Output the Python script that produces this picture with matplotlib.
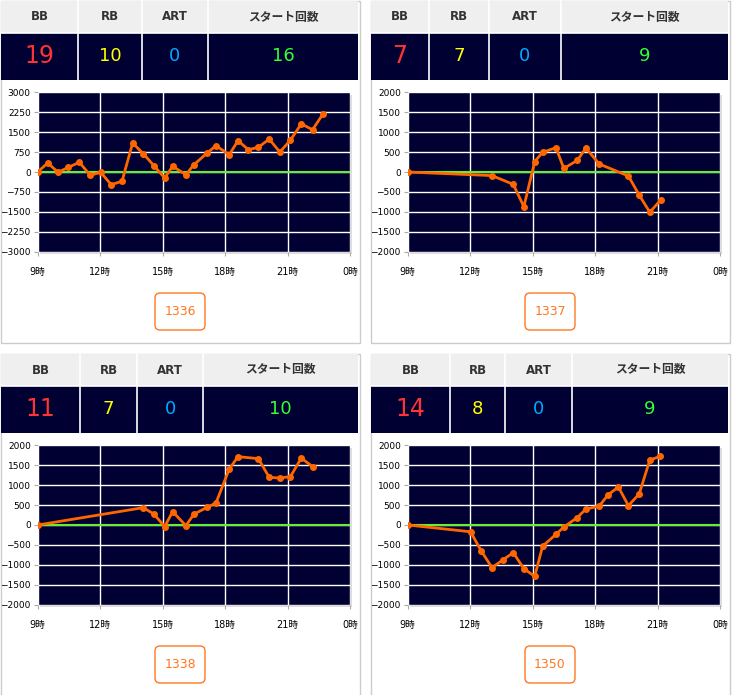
import matplotlib
matplotlib.use("Agg")
import matplotlib.pyplot as plt
from matplotlib.patches import Rectangle, FancyBboxPatch

plt.rcParams['font.family'] = ['DejaVu Sans', 'Noto Sans CJK JP']

# data
machines = ['1336', '1337', '1338', '1350']
bb = [19, 7, 11, 14]
rb = [10, 7, 7, 8]
art = [0, 0, 0, 0]
starts = [16, 9, 10, 9]

hours_1336 = [9.0, 9.48, 9.98, 10.47, 11.0, 11.53, 12.02, 12.53, 13.05, 13.56, 14.07, 14.58,
              15.1, 15.48, 16.12, 16.5, 17.14, 17.56, 18.2, 18.62, 19.12, 19.6, 20.12, 20.63,
              21.14, 21.66, 22.2, 22.71]
diff_1336 = [0, 340, -10, 175, 365, -125, -10, -475, -350, 1090, 690, 240,
             -225, 215, -100, 275, 715, 990, 650, 1180, 840, 930, 1240, 750,
             1200, 1815, 1590, 2195]

hours_1337 = [9.0, 13.05, 14.07, 14.58, 15.1, 15.48, 16.12, 16.5, 17.14, 17.56, 18.2, 19.6,
              20.12, 20.63, 21.16]
diff_1337 = [0, -90, -310, -870, 260, 495, 610, 90, 290, 600, 200, -100,
             -580, -1010, -695]

hours_1338 = [9.0, 14.07, 14.58, 15.1, 15.48, 16.12, 16.5, 17.14, 17.56, 18.2, 18.62, 19.6,
              20.12, 20.63, 21.14, 21.66, 22.2]
diff_1338 = [0, 435, 275, -40, 335, -15, 270, 445, 550, 1405, 1715, 1665,
             1195, 1180, 1215, 1680, 1465]

hours_1350 = [9.0, 12.02, 12.53, 13.05, 13.56, 14.07, 14.58, 15.1, 15.48, 16.12, 16.5, 17.14,
              17.56, 18.2, 18.62, 19.12, 19.6, 20.12, 20.63, 21.14]
diff_1350 = [0, -170, -650, -1070, -880, -695, -1095, -1290, -530, -235, -50, 185,
             400, 475, 755, 955, 485, 780, 1630, 1725]

series = [(hours_1336, diff_1336), (hours_1337, diff_1337),
          (hours_1338, diff_1338), (hours_1350, diff_1350)]
yticks_list = [[-3000, -2250, -1500, -750, 0, 750, 1500, 2250, 3000],
               [-2000, -1500, -1000, -500, 0, 500, 1000, 1500, 2000],
               [-2000, -1500, -1000, -500, 0, 500, 1000, 1500, 2000],
               [-2000, -1500, -1000, -500, 0, 500, 1000, 1500, 2000]]
xticks = [9, 12, 15, 18, 21, 24]
xtick_labels = ['9時', '12時', '15時', '18時', '21時', '0時']
headers = ['BB', 'RB', 'ART', 'スタート回数']

# layout (pixels)
W, H = 733, 695
NAVY = '#000033'
offsets = [(0, 0), (370, 0), (0, 353), (370, 353)]
col_edges = [[1, 78, 142, 208, 358], [1, 59, 119, 191, 358],
             [1, 80, 137, 203, 358], [1, 80, 135, 202, 358]]

fig = plt.figure(figsize=(W / 100, H / 100), dpi=100)
bg = fig.add_axes([0, 0, 1, 1])
bg.set_xlim(0, W)
bg.set_ylim(H, 0)
bg.axis('off')

for i, (ox, oy) in enumerate(offsets):
    bg.add_patch(Rectangle((ox + 0.5, oy + 0.5), 359, 350 if oy else 342,
                           facecolor='white', edgecolor='#cccccc', lw=1))
    edges = [ox + e for e in col_edges[i]]
    bg.add_patch(Rectangle((edges[0], oy + 1), edges[-1] - edges[0], 32,
                           facecolor='#efefef', edgecolor='none'))
    bg.add_patch(Rectangle((edges[0], oy + 33), edges[-1] - edges[0], 47,
                           facecolor=NAVY, edgecolor='none'))
    for e in edges[1:-1]:
        bg.plot([e, e], [oy + 1, oy + 80], color='white', lw=1.2)
    bg.plot([edges[0], edges[-1]], [oy + 33, oy + 33], color='white', lw=1.2)
    vals = [bb[i], rb[i], art[i], starts[i]]
    colors = ['#ff3333', '#ffff00', '#00aaff', '#33ff33']
    sizes = [17, 13, 13, 13]
    for j in range(4):
        cx = (edges[j] + edges[j + 1]) / 2
        bg.text(cx, oy + 17, headers[j], ha='center', va='center', fontsize=8.5,
                fontweight='bold', color='#333333')
        bg.text(cx, oy + 56, str(vals[j]), ha='center', va='center',
                fontsize=sizes[j], color=colors[j])
    # plot shadow
    bg.add_patch(Rectangle((ox + 40, oy + 95), 312.3, 159.4,
                           facecolor='#dddddd', edgecolor='none'))
    # button
    bg.add_patch(FancyBboxPatch((ox + 155, oy + 293), 50, 37,
                                boxstyle='round,pad=0,rounding_size=5',
                                facecolor='white', edgecolor='#ff7722', lw=1))
    bg.text(ox + 180, oy + 311.5, machines[i], ha='center', va='center',
            fontsize=9, color='#ff7722')

    ax = fig.add_axes([(ox + 37.7) / W, 1 - (oy + 251.7) / H, 312.3 / W, 159.4 / H])
    ax.set_facecolor(NAVY)
    yt = yticks_list[i]
    ax.set_ylim(yt[0], yt[-1])
    ax.set_xlim(9, 24)
    ax.set_yticks(yt)
    ax.set_xticks(xticks)
    ax.set_xticklabels(xtick_labels)
    ax.grid(True, color='white', lw=1)
    ax.set_axisbelow(True)
    for s in ax.spines.values():
        s.set_visible(False)
    ax.tick_params(axis='both', labelsize=6.5, colors='#aaaaaa', labelcolor='black',
                   length=3, width=0.8, pad=2)
    ax.tick_params(axis='x', pad=8, labelsize=7)
    ax.axhline(0, color='#66ee33', lw=1.5, zorder=2)
    x, y = series[i]
    ax.plot(x, y, color='#ff6600', lw=2, marker='o', markersize=4, zorder=3,
            solid_joinstyle='round')

fig.savefig('out.png', dpi=100)
